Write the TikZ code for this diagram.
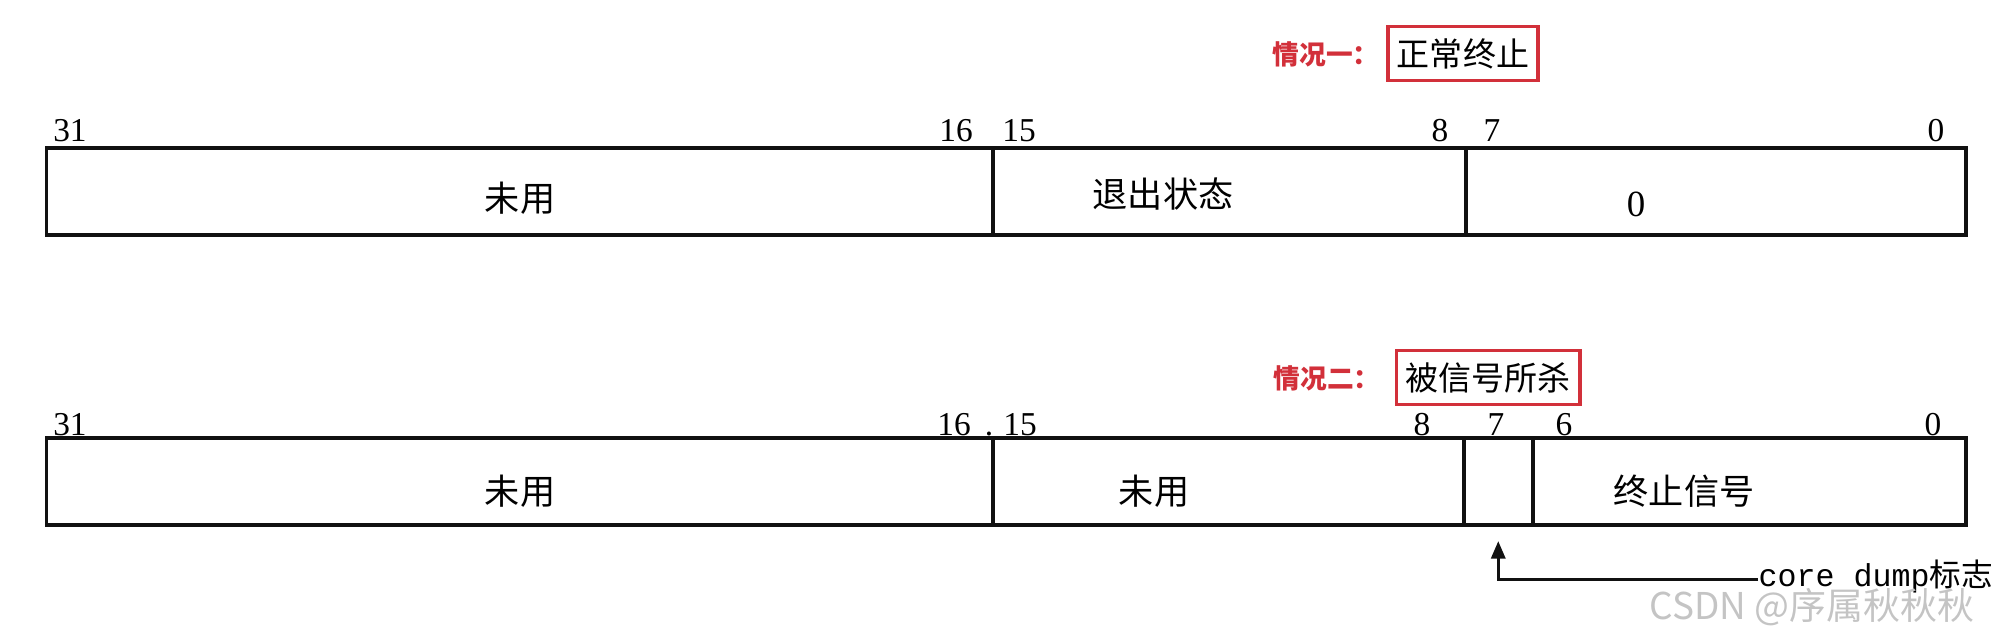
\documentclass[tikz,border=0pt]{standalone}
\usepackage{fontspec}
\setmainfont{Liberation Serif}
\setmonofont{Liberation Mono}
\newfontfamily\cjk{Noto Sans CJK SC}
\usetikzlibrary{arrows.meta}
\definecolor{casered}{HTML}{D2303A}
\definecolor{inkblack}{HTML}{111111}
\definecolor{markgrey}{HTML}{C4C4C4}
\tikzset{
  field/.style    = {draw=inkblack, line width=1pt, anchor=south west,
                     minimum height=0.87cm, inner sep=0pt},
  bitno/.style    = {font=\fontsize{9.5}{10}\selectfont, inner sep=0pt},
  fieldtxt/.style = {font=\cjk\fontsize{10}{10}\selectfont, inner sep=0pt},
  casetag/.style  = {text=casered, font=\cjk\bfseries\fontsize{7.6}{8}\selectfont},
  casebox/.style  = {draw=casered, line width=1pt, font=\cjk\fontsize{9.4}{10}\selectfont,
                     inner xsep=2.6pt, minimum height=0.48cm},
  pointer/.style  = {-{Triangle[length=5pt,width=4pt]}, draw=inkblack, line width=0.9pt},
  wmark/.style    = {text=markgrey, font=\cjk\fontsize{10.5}{11}\selectfont, inner sep=0pt},
}

\begin{document}
\begin{tikzpicture}
  \useasboundingbox (0,0) rectangle (20,6.4);
  % case one: normal exit
  \node[casetag] (c1) at (13.26,5.86) {情况一：};
  \node[casebox] (n1) at (14.63,5.865) {正常终止};
  \foreach \x/\b in {0.70/31, 9.56/16, 10.19/15, 14.40/8, 14.92/7, 19.36/0}
    \node[bitno] (ha\b) at (\x,5.09) {\b};
  \node[field, minimum width=9.465cm] (a1) at (0.446,4.03) {};
  \node[field, minimum width=4.73cm] (a2) at (9.911,4.03) {};
  \node[field, minimum width=5.00cm] (a3) at (14.64,4.03) {};
  \node[fieldtxt] (ta1) at (5.20,4.42) {未用};
  \node[fieldtxt] (ta2) at (11.63,4.46) {退出状态};
  \node[bitno, font=\fontsize{10.5}{11}\selectfont] (ta3) at (16.36,4.36) {0};

  % case two: killed by a signal
  \node[casetag] (c2) at (13.27,2.62) {情况二：};
  \node[casebox] (n2) at (14.88,2.625) {被信号所杀};
  \foreach \x/\b in {0.70/31, 9.54/16, 10.20/15, 14.22/8, 14.96/7, 15.64/6, 19.33/0}
    \node[bitno] (hb\b) at (\x,2.15) {\b};
  \node[bitno] (dot) at (9.89,2.06) {.};
  \node[field, minimum width=9.465cm] (b1) at (0.446,1.13) {};
  \node[field, minimum width=4.71cm] (b2) at (9.911,1.13) {};
  \node[field, minimum width=0.69cm] (b3) at (14.62,1.13) {};
  \node[field, minimum width=4.33cm] (b4) at (15.31,1.13) {};
  \node[fieldtxt] (tb1) at (5.20,1.49) {未用};
  \node[fieldtxt] (tb2) at (11.54,1.49) {未用};
  \node[fieldtxt] (tb4) at (16.84,1.49) {终止信号};

  % core dump flag
  \node[anchor=west, inner sep=0pt, font=\fontsize{9}{10}\selectfont] (cd) at (17.58,0.64)
    {\ttfamily core dump\cjk 标志};
  \draw[pointer] ([yshift=-1pt]cd.west) -| ([yshift=-4pt]b3.south);
  \node[wmark] (wm) at (18.12,0.33) {CSDN @序属秋秋秋};
\end{tikzpicture}
\end{document}
